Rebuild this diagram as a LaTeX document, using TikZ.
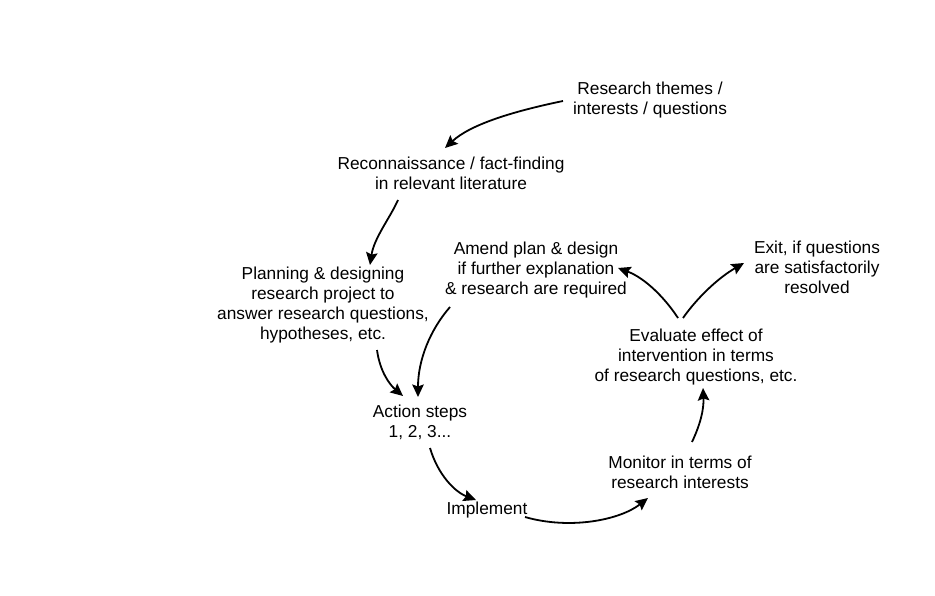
\documentclass[tikz,border=0pt]{standalone}
\usepackage{fontspec}
\setmainfont{Liberation Sans}
\usetikzlibrary{arrows.meta}
\begin{document}
\begin{tikzpicture}[x=1pt,y=-1pt,
  lbl/.style={align=center,inner sep=0pt,text=black,font=\fontsize{17.3}{20}\selectfont},
  flow/.style={line width=1.8pt,-{Stealth[length=12.5pt,width=11.5pt,inset=2pt]}}]
\useasboundingbox (0,0) rectangle (935,596);

% stages of the cycle
\node[lbl] (research)  at (650,100) {Research themes /\\interests / questions};
\node[lbl] (recon)     at (451,173) {Reconnaissance / fact-finding\\in relevant literature};
\node[lbl] (plan)      at (323,305) {Planning \& designing\\research project to\\answer research questions,\\hypotheses, etc.};
\node[lbl] (amend)     at (536,270) {Amend plan \& design\\if further explanation\\\& research are required};
\node[lbl] (exit)      at (817,267) {Exit, if questions\\are satisfactorily\\resolved};
\node[lbl] (evaluate)  at (696,357) {Evaluate effect of\\intervention in terms\\of research questions, etc.};
\node[lbl] (action)    at (420,422) {Action steps\\1, 2, 3...};
\node[lbl] (monitor)   at (680,472) {Monitor in terms of\\research interests};
\node[lbl] (implement) at (487,510) {Implement};

% connectors
\draw[flow] ([shift={(-87,1)}]research.center) .. controls (510,112) and (470,125) .. ([shift={(-6,-25)}]recon.center);
\draw[flow] ([shift={(-53,27)}]recon.center) .. controls (390,218) and (374,238) .. ([shift={(47,-40)}]plan.center);
\draw[flow] ([shift={(54,45)}]plan.center) .. controls (380,372) and (390,385) .. ([shift={(-17,-26)}]action.center);
\draw[flow] ([shift={(-86,37)}]amend.center) .. controls (430,330) and (418,360) .. ([shift={(-2,-25)}]action.center);
\draw[flow] ([shift={(10,26)}]action.center) .. controls (438,475) and (455,492) .. ([shift={(-11,-10)}]implement.center);
\draw[flow] ([shift={(38,7)}]implement.center) .. controls (570,530) and (620,520) .. ([shift={(-32,26)}]monitor.center);
\draw[flow] ([shift={(12,-30)}]monitor.center) .. controls (700,425) and (704,410) .. ([shift={(7,31)}]evaluate.center);
\draw[flow] ([shift={(-18,-39)}]evaluate.center) .. controls (665,298) and (645,278) .. ([shift={(82,-2)}]amend.center);
\draw[flow] ([shift={(-13,-39)}]evaluate.center) .. controls (697,298) and (718,278) .. ([shift={(-73,-4)}]exit.center);
\end{tikzpicture}
\end{document}
